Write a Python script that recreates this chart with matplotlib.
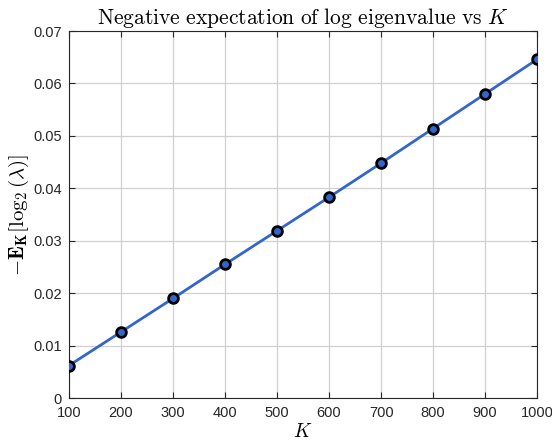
import numpy as np
import matplotlib
matplotlib.use("Agg")
import matplotlib.pyplot as plt

plt.rcParams['font.family'] = ['Liberation Sans', 'DejaVu Sans']
plt.rcParams['mathtext.fontset'] = 'cm'

K = [100, 200, 300, 400, 500, 600, 700, 800, 900, 1000]
neg_exp = [0.0062, 0.0126, 0.0190, 0.0255, 0.0319, 0.0383, 0.0448, 0.0514, 0.0580, 0.0646]

x_ticks = list(range(100, 1001, 100))
y_ticks = [0, 0.01, 0.02, 0.03, 0.04, 0.05, 0.06, 0.07]
y_tick_labels = ['0', '0.01', '0.02', '0.03', '0.04', '0.05', '0.06', '0.07']

fig = plt.figure(figsize=(5.52, 4.47), dpi=100)
ax = fig.add_axes([0.125, 0.1096, 0.848, 0.821])

ax.plot(K, neg_exp, color='#3366cc', lw=2, marker='o', ms=7,
        mfc='#3366cc', mec='black', mew=2, zorder=3)

ax.set_xlim(100, 1000)
ax.set_ylim(0, 0.07)
ax.set_xticks(x_ticks)
ax.set_yticks(y_ticks)
ax.set_yticklabels(y_tick_labels)
ax.grid(True, color='#d0d0d0', lw=0.9)
ax.set_axisbelow(True)
ax.tick_params(direction='in', top=True, right=True, labelsize=10.5,
               colors='#262626', length=4, width=0.8)
ax.tick_params(axis='x', pad=6)
ax.tick_params(axis='y', pad=5)
for s in ax.spines.values():
    s.set_color('#262626')
    s.set_linewidth(0.8)

ax.set_title(r'$\mathrm{Negative\ expectation\ of\ log\ eigenvalue\ vs}\ K$',
             fontsize=15.5, pad=5)
ax.set_xlabel(r'$K$', fontsize=14, labelpad=2)
ax.set_ylabel(r'$-\mathbf{E_K}[\log_2(\lambda)]$', fontsize=15, labelpad=2)

fig.savefig('out.png', dpi=100)
